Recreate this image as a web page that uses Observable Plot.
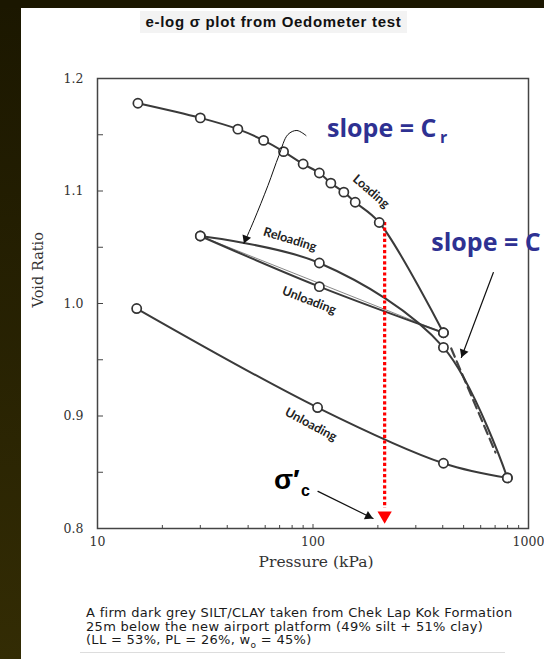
<!DOCTYPE html>
<html><head><meta charset="utf-8">
<script src="https://cdn.jsdelivr.net/npm/d3@7"></script>
<script src="https://cdn.jsdelivr.net/npm/@observablehq/plot@0.6"></script>
<style>
html,body{margin:0;padding:0;background:#fff;overflow:hidden;}
#page{position:relative;width:544px;height:659px;overflow:hidden;background:#fff;}
#bandL{position:absolute;left:0;top:0;width:21px;height:659px;background:linear-gradient(#1b1700,#332c04);z-index:5}
#bandT{position:absolute;left:0;top:0;width:544px;height:8px;background:#1b1700;z-index:5}
#title{position:absolute;left:140px;top:11px;width:267px;height:22px;background:#f3f3f3;font:bold 15px "Liberation Sans",Arial,sans-serif;letter-spacing:0.7px;text-align:center;line-height:22px;color:#111;z-index:3}
#chart{position:absolute;left:0;top:0;}
#caption{position:absolute;left:86px;top:606px;font:13px "DejaVu Sans",sans-serif;letter-spacing:0.3px;line-height:13.5px;color:#1a1a1a;white-space:nowrap;z-index:3}
#rule{position:absolute;left:80px;top:652px;width:425px;height:1px;background:#ddd;z-index:3}
</style></head>
<body>
<div id="page">
  <div id="chart"></div>
  <div id="title">e-log σ plot from Oedometer test</div>
  <div id="caption">A firm dark grey SILT/CLAY taken from Chek Lap Kok Formation<br>25m below the new airport platform (49% silt + 51% clay)<br>(LL = 53%, PL = 26%, w<sub style="font-size:9px;line-height:0">o</sub> = 45%)</div>
  <div id="rule"></div>
  <div id="bandL"></div>
  <div id="bandT"></div>
</div>
<script>
// ---- data (pressure kPa, void ratio) ----
const loadP = [15.4, 30, 44.8, 59, 73, 90, 107, 121, 139, 157, 203, 403];
const loadE = [1.178, 1.165, 1.155, 1.145, 1.135, 1.124, 1.116, 1.107, 1.099, 1.090, 1.072, 0.974];
const unload1P = [403, 107, 30];
const unload1E = [0.974, 1.015, 1.060];
const reloadP = [30, 107, 403, 798];
const reloadE = [1.060, 1.036, 0.961, 0.845];
const unload2P = [798, 403, 105, 15.2];
const unload2E = [0.845, 0.858, 0.9075, 0.9955];

// construction lines
const chordP = [30, 403];
const chordE = [1.060, 0.974];
const ccDashP = [438, 703];
const ccDashE = [0.960, 0.8675];
const sigmaC = [215];
const redSpan = [1.072, 0.818];
const redHeadE = [0.8115];

// axis ticks
const xMajor = [10, 100, 1000];
const xMinor = [20, 30, 40, 50, 60, 70, 80, 90, 200, 300, 400, 500, 600, 700, 800, 900];
const yMajor = [0.8, 0.9, 1.0, 1.1, 1.2];
const yMinor = [0.85, 0.95, 1.05, 1.15];

// curve labels
const curveLabels = ["Loading", "Reloading", "Unloading", "Unloading"];
const curveLabelP = [186, 78.2, 96, 97.8];
const curveLabelE = [1.0996, 1.057, 1.0027, 0.8924];
const curveLabelRot = [41, 17, 21, 28];

// annotation arrows
const crArrowP = [92.8, 84.2, 76.5, 69.5, 61.8, 53.2, 47.8];
const crArrowE = [1.1493, 1.1538, 1.1502, 1.1316, 1.1049, 1.0738, 1.0533];
const ccArrowP = [687, 488];
const ccArrowE = [1.0275, 0.952];
const scArrowP = [105.5, 190];
const scArrowE = [0.833, 0.8089];
const headP = [47.8, 488, 190];
const headE = [1.0533, 0.952, 0.8089];
const headRot = [201, 200.6, 116];
const headDx = [1.9, 1.9, -4.8];
const headDy = [-4.9, -5.0, -2.3];

const pts = (P, E) => P.map((p, i) => ({p, e: E[i]}));
const lineStyle = {x: "p", y: "e", stroke: "#3a3a3a", strokeWidth: 2, curve: "catmull-rom"};
const dotStyle = {x: "p", y: "e", r: 4.6, fill: "white", stroke: "#333", strokeWidth: 1.7};
const blue = "#2e3192";

const chart = Plot.plot({
  width: 544, height: 590,
  marginLeft: 97, marginRight: 16, marginTop: 78, marginBottom: 62,
  style: {background: "transparent", fontFamily: "DejaVu Serif", fontSize: "12.5px", color: "#333"},
  x: {type: "log", domain: [10, 1000], label: null},
  y: {domain: [0.8, 1.2], label: null},
  marks: [
    // construction lines
    Plot.line(pts(chordP, chordE), {x: "p", y: "e", stroke: "#555", strokeWidth: 0.7}),
    Plot.line(pts(ccDashP, ccDashE), {x: "p", y: "e", stroke: "#444", strokeWidth: 2.2, strokeDasharray: "9,5"}),
    // curves
    Plot.line(pts(loadP, loadE), lineStyle),
    Plot.line(pts(unload1P, unload1E), lineStyle),
    Plot.line(pts(reloadP, reloadE), lineStyle),
    Plot.line(pts(unload2P, unload2E), lineStyle),
    // red preconsolidation marker
    Plot.ruleX(sigmaC, {y1: redSpan[0], y2: redSpan[1], stroke: "#ff0000", strokeWidth: 3.2, strokeDasharray: "3.2,2.4"}),
    Plot.dot(sigmaC, {x: d => d, y: redHeadE, symbol: "triangle", rotate: 180, r: 5.3, fill: "#ff0000", stroke: "none"}),
    // points
    Plot.dot(pts(loadP, loadE), dotStyle),
    Plot.dot(pts(unload1P, unload1E), dotStyle),
    Plot.dot(pts(reloadP, reloadE), dotStyle),
    Plot.dot(pts(unload2P, unload2E), dotStyle),
    // frame & axes
    Plot.frame({stroke: "#444", strokeWidth: 1.5}),
    Plot.axisY({ticks: yMajor, tickSize: -6, tickPadding: 20, tickFormat: d => d.toFixed(1), stroke: "#444", fill: "#333"}),
    Plot.axisY({ticks: yMinor, tickSize: -6, tickFormat: () => "", stroke: "#444"}),
    Plot.axisX({ticks: xMajor, tickSize: -4, tickPadding: 13, tickFormat: d => String(d), stroke: "#444", fill: "#333"}),
    Plot.axisX({ticks: xMinor, tickSize: -3, tickFormat: () => "", stroke: "#444"}),
    Plot.text(["Void Ratio"], {frameAnchor: "left", rotate: -90, dx: -59, dy: 4, fontFamily: "DejaVu Serif", fontSize: 14.5, fill: "#333"}),
    Plot.text(["Pressure (kPa)"], {frameAnchor: "bottom", dx: 3, dy: 38, fontFamily: "DejaVu Serif", fontSize: 15.5, fill: "#333"}),
    // curve labels
    Plot.text(curveLabels, {x: curveLabelP, y: curveLabelE, text: d => d, rotate: curveLabelRot, fontFamily: "Lato", fontWeight: "bold", fontSize: 12.5, fill: "#222", stroke: "white", strokeWidth: 5}),
    // annotation arrows
    Plot.line(pts(crArrowP, crArrowE), {x: "p", y: "e", stroke: "#111", strokeWidth: 1, curve: "catmull-rom"}),
    Plot.line(pts(ccArrowP, ccArrowE), {x: "p", y: "e", stroke: "#111", strokeWidth: 1.2}),
    Plot.line(pts(scArrowP, scArrowE), {x: "p", y: "e", stroke: "#111", strokeWidth: 1.2}),
    Plot.dot(headP, {x: d => d, y: headE, symbol: "triangle", rotate: headRot, dx: headDx[0], dy: headDy[0], r: 3.4, fill: "#111", stroke: "none", filter: (d, i) => i === 0}),
    Plot.dot(headP, {x: d => d, y: headE, symbol: "triangle", rotate: headRot, dx: headDx[1], dy: headDy[1], r: 3.4, fill: "#111", stroke: "none", filter: (d, i) => i === 1}),
    Plot.dot(headP, {x: d => d, y: headE, symbol: "triangle", rotate: headRot, dx: headDx[2], dy: headDy[2], r: 3.4, fill: "#111", stroke: "none", filter: (d, i) => i === 2}),
    // slope annotations
    Plot.text(["slope = C"], {x: [116.2], y: [1.1547], text: d => d, textAnchor: "start", fontFamily: "Open Sans", fontWeight: "bold", fontSize: 25, fill: blue}),
    Plot.text(["r"], {x: [388], y: [1.1472], text: d => d, textAnchor: "start", fontFamily: "Open Sans", fontWeight: "bold", fontSize: 16, fill: blue}),
    Plot.text(["slope = C"], {x: [354], y: [1.0542], text: d => d, textAnchor: "start", fontFamily: "Open Sans", fontWeight: "bold", fontSize: 25, fill: blue}),
    Plot.text(["σ′"], {x: [65.9], y: [0.8435], text: d => d, textAnchor: "start", fontFamily: "Liberation Sans", fontWeight: "bold", fontSize: 28, fill: "#000"}),
    Plot.text(["c"], {x: [87.9], y: [0.8337], text: d => d, textAnchor: "start", fontFamily: "Liberation Sans", fontWeight: "bold", fontSize: 16, fill: "#000"})
  ]
});
document.getElementById("chart").appendChild(chart);
</script>
</body></html>
